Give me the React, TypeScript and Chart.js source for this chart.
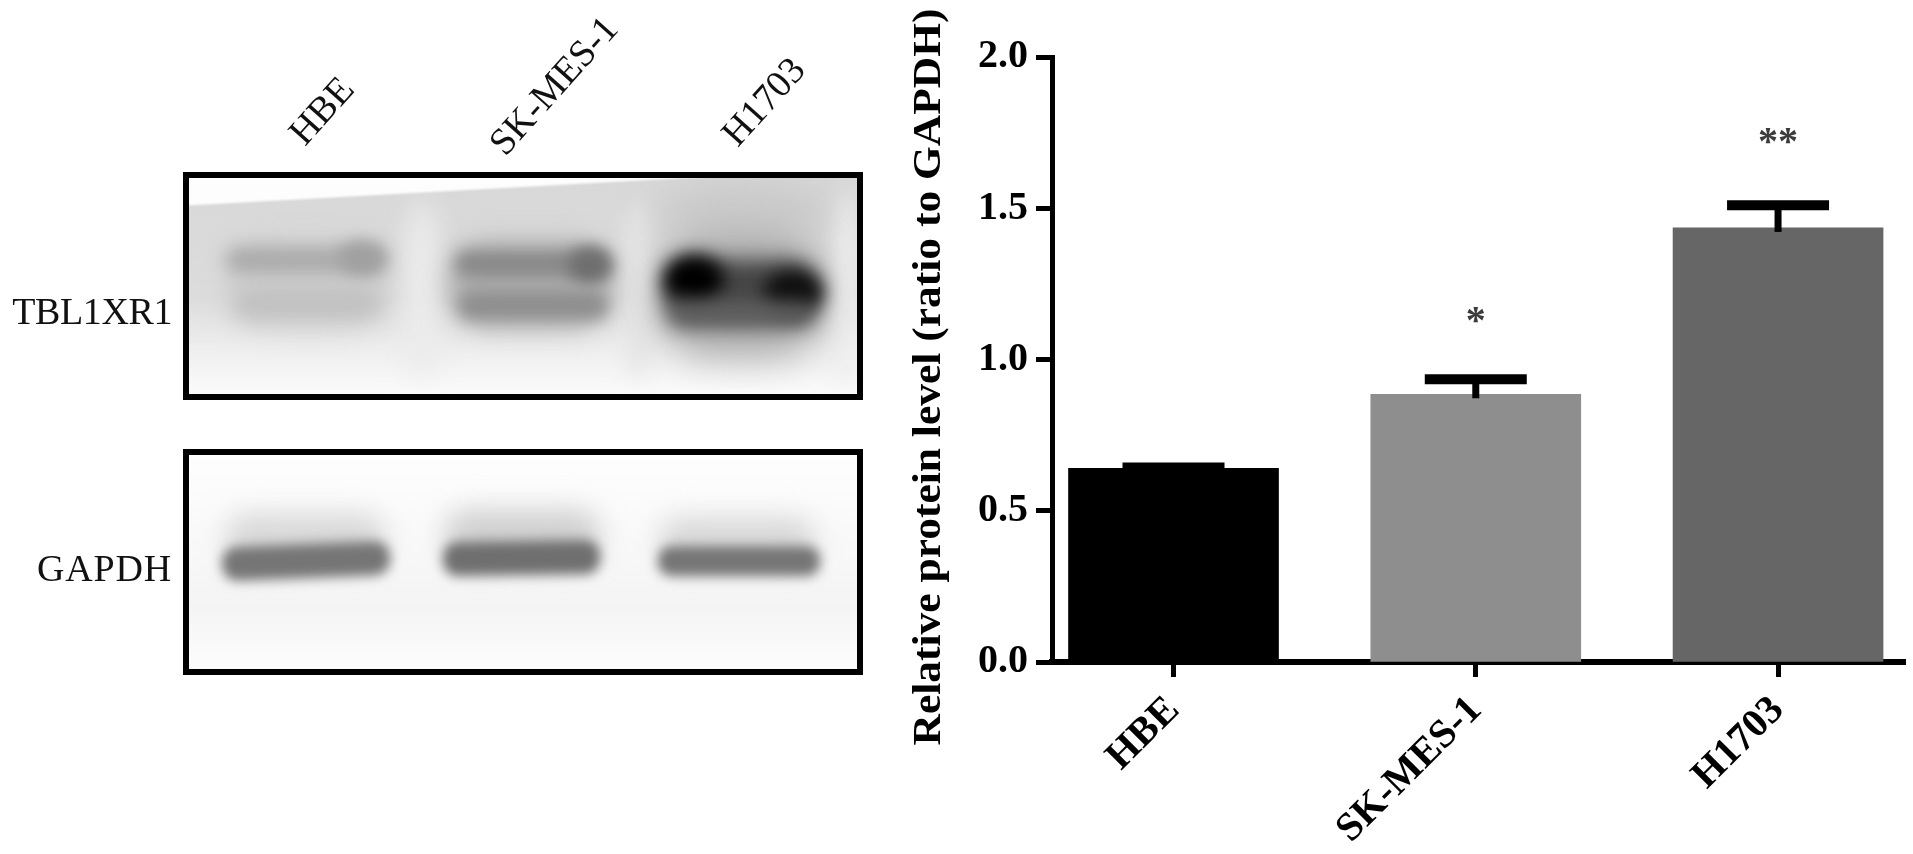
import React, { useEffect, useRef } from "react";
import { Chart, registerables } from "chart.js";

Chart.register(...registerables);

const categories = ["HBE", "SK-MES-1", "H1703"];
const meanValues = [0.64, 0.885, 1.435];
const errorValues = [0.003, 0.05, 0.075];
const significance = ["", "*", "**"];
const significanceLevels = [0, 1.088, 1.679];
const yTicks = [0, 0.5, 1, 1.5, 2];
const barColors = ["#000000", "#8e8e8e", "#666666"];
const yTitle = "Relative protein level (ratio to GAPDH)";
const blotTargets = ["TBL1XR1", "GAPDH"];
const FONT = '"Liberation Serif", "Times New Roman", serif';

function blob(ctx: any, x: number, y: number, rx: number, ry: number, color: string, blur: number, rot = 0) {
  ctx.save();
  ctx.filter = `blur(${blur}px)`;
  ctx.fillStyle = color;
  ctx.beginPath();
  ctx.ellipse(x, y, rx, ry, rot, 0, Math.PI * 2);
  ctx.fill();
  ctx.restore();
}

function band(ctx: any, x0: number, x1: number, y: number, hh: number, color: string, blur: number, tilt = 0) {
  ctx.save();
  ctx.filter = `blur(${blur}px)`;
  ctx.fillStyle = color;
  const cx = (x0 + x1) / 2;
  ctx.translate(cx, y);
  ctx.rotate(tilt);
  ctx.beginPath();
  ctx.roundRect(x0 - cx, -hh, x1 - x0, hh * 2, hh * 0.9);
  ctx.fill();
  ctx.restore();
}

const blotPlugin = {
  id: "blot",
  beforeDraw(chart: any) {
    const ctx = chart.ctx;
    ctx.save();
    ctx.fillStyle = "#fff";
    ctx.fillRect(0, 0, chart.width, chart.height);

    const L = 186, R = 860;

    // upper panel
    ctx.save();
    ctx.beginPath();
    ctx.rect(L, 173, R - L, 225);
    ctx.clip();
    const g = ctx.createLinearGradient(0, 175, 0, 398);
    g.addColorStop(0, "#d8d8d8");
    g.addColorStop(0.55, "#dcdcdc");
    g.addColorStop(0.78, "#eeeeee");
    g.addColorStop(1, "#fcfcfc");
    ctx.fillStyle = g;
    ctx.fillRect(L, 173, R - L, 225);
    blob(ctx, 422, 290, 20, 90, "#ebebeb", 12);
    blob(ctx, 638, 290, 16, 90, "#e6e6e6", 10);
    blob(ctx, 845, 290, 14, 100, "#efefef", 10);
    blob(ctx, 745, 210, 90, 30, "#cacaca", 18);
    // white wedge
    ctx.fillStyle = "#fdfdfd";
    ctx.save();
    ctx.filter = "blur(1px)";
    ctx.beginPath();
    ctx.moveTo(180, 206);
    ctx.lineTo(720, 176);
    ctx.lineTo(860, 170);
    ctx.lineTo(180, 165);
    ctx.closePath();
    ctx.fill();
    ctx.restore();
    // HBE
    band(ctx, 228, 385, 285, 42, "#cfcfcf", 14);
    band(ctx, 226, 385, 260, 13, "#a9a9a9", 9);
    blob(ctx, 362, 258, 24, 17, "#a0a0a0", 8);
    band(ctx, 234, 380, 303, 14, "#c0c0c0", 10);
    // SK-MES-1
    band(ctx, 448, 612, 285, 44, "#b0b0b0", 13);
    band(ctx, 455, 608, 264, 13, "#888888", 8);
    blob(ctx, 590, 265, 22, 18, "#6e6e6e", 8);
    band(ctx, 458, 608, 305, 14, "#8e8e8e", 8);
    // H1703
    band(ctx, 656, 826, 295, 62, "#ababab", 18);
    band(ctx, 664, 818, 290, 30, "#464646", 10);
    blob(ctx, 694, 279, 30, 24, "#000000", 9);
    blob(ctx, 793, 292, 30, 21, "#0c0c0c", 9);
    band(ctx, 668, 815, 314, 12, "#5e5e5e", 10);
    ctx.restore();
    ctx.lineWidth = 6;
    ctx.strokeStyle = "#000";
    ctx.strokeRect(L, 175, R - L, 222);

    // lower panel
    ctx.save();
    ctx.beginPath();
    ctx.rect(L, 450, R - L, 222);
    ctx.clip();
    const h = ctx.createLinearGradient(0, 452, 0, 672);
    h.addColorStop(0, "#fefefe");
    h.addColorStop(0.3, "#fafafa");
    h.addColorStop(0.7, "#f4f4f4");
    h.addColorStop(1, "#fdfdfd");
    ctx.fillStyle = h;
    ctx.fillRect(L, 450, R - L, 222);
    band(ctx, 226, 385, 538, 24, "#d8d8d8", 13);
    band(ctx, 445, 600, 536, 26, "#d0d0d0", 13);
    band(ctx, 660, 815, 540, 22, "#d8d8d8", 13);
    band(ctx, 222, 390, 561, 17, "#757575", 6, -0.04);
    band(ctx, 443, 600, 558, 17, "#6f6f6f", 6, -0.015);
    band(ctx, 658, 820, 561, 15, "#757575", 6);
    ctx.restore();
    ctx.strokeRect(L, 452, R - L, 220);

    // panel labels
    ctx.filter = "blur(0.5px)";
    ctx.fillStyle = "#111";
    ctx.font = `38px ${FONT}`;
    ctx.textAlign = "right";
    ctx.textBaseline = "alphabetic";
    ctx.letterSpacing = "-0.4px";
    ctx.fillText(blotTargets[0], 172, 324);
    ctx.letterSpacing = "0.8px";
    ctx.fillText(blotTargets[1], 172, 581);
    ctx.letterSpacing = "0px";
    ctx.textAlign = "center";
    ctx.textBaseline = "middle";
    const lane = [[323, 112], [555, 87], [765, 103]];
    categories.forEach((c, i) => {
      ctx.save();
      ctx.translate(lane[i][0], lane[i][1]);
      ctx.rotate((-48 * Math.PI) / 180);
      ctx.fillText(c, 0, 0);
      ctx.restore();
    });
    ctx.restore();

    // y-axis title, stretched along its reading direction like the original
    ctx.save();
    ctx.fillStyle = "#000";
    ctx.font = `bold 40px ${FONT}`;
    ctx.textAlign = "center";
    ctx.textBaseline = "alphabetic";
    ctx.translate(940, 377);
    ctx.rotate(-Math.PI / 2);
    ctx.scale(1.087, 1);
    ctx.fillText(yTitle, 0, 0);
    ctx.restore();
  },
};

const errorPlugin = {
  id: "errorBars",
  afterDatasetsDraw(chart: any) {
    const ctx = chart.ctx;
    const x = chart.scales.x;
    const y = chart.scales.y;
    ctx.save();
    ctx.strokeStyle = "#000";
    meanValues.forEach((v, i) => {
      const px = x.getPixelForValue(i);
      const top = y.getPixelForValue(v + errorValues[i]);
      ctx.lineWidth = 7;
      ctx.beginPath();
      ctx.moveTo(px, y.getPixelForValue(v) + 4);
      ctx.lineTo(px, top);
      ctx.stroke();
      ctx.lineWidth = 10;
      ctx.beginPath();
      ctx.moveTo(px - 51, top);
      ctx.lineTo(px + 51, top);
      ctx.stroke();
      if (significance[i]) {
        ctx.fillStyle = "#3c3c3c";
        ctx.font = `bold 40px ${FONT}`;
        ctx.textAlign = "center";
        ctx.textBaseline = "alphabetic";
        ctx.fillText(significance[i], px, y.getPixelForValue(significanceLevels[i]));
      }
    });
    ctx.restore();
  },
};

export default function App() {
  const ref = useRef<HTMLCanvasElement>(null);
  useEffect(() => {
    document.body.style.margin = "0";
    const chart = new Chart(ref.current as any, {
      type: "bar",
      data: {
        datasets: [
          {
            data: meanValues.map((v, i) => ({ x: i, y: v })),
            backgroundColor: barColors,
            barThickness: 210,
            borderWidth: 0,
          },
        ],
      },
      options: {
        animation: false,
        responsive: false,
        parsing: { xAxisKey: "x", yAxisKey: "y" },
        layout: { padding: { left: 905, right: 8, top: 57, bottom: 0 } },
        plugins: { legend: { display: false }, tooltip: { enabled: false } },
        scales: {
          x: {
            type: "linear",
            offset: false,
            min: -0.402,
            max: 2.42,
            afterBuildTicks: (s: any) => {
              s.ticks = categories.map((_, i) => ({ value: i }));
            },
            afterFit: (s: any) => {
              s.height = 192;
            },
            border: { width: 6, color: "#000" },
            grid: { offset: false, drawOnChartArea: false, drawTicks: true, tickLength: 15, tickWidth: 5, tickColor: "#000" },
            ticks: {
              autoSkip: false,
              minRotation: 45,
              maxRotation: 45,
              padding: 10,
              color: "#000",
              font: { family: FONT, size: 40, weight: "bold" },
              callback: (v: any) => categories[v] ?? "",
            },
          },
          y: {
            min: 0,
            max: 2,
            afterBuildTicks: (s: any) => {
              s.ticks = yTicks.map((value) => ({ value }));
            },
            afterFit: (s: any) => {
              s.width = 147;
            },
            border: { width: 5, color: "#000" },
            grid: { drawOnChartArea: false, drawTicks: true, tickLength: 16, tickWidth: 5, tickColor: "#000" },
            ticks: {
              padding: 8,
              color: "#000",
              font: { family: FONT, size: 40, weight: "bold" },
              callback: (v: any) => Number(v).toFixed(1),
            },
          },
        },
      },
      plugins: [blotPlugin, errorPlugin],
    } as any);
    return () => chart.destroy();
  }, []);
  return (
    <canvas
      ref={ref}
      width={1913}
      height={854}
      style={{ position: "fixed", left: 0, top: 0, width: 1913, height: 854, display: "block" }}
    />
  );
}
